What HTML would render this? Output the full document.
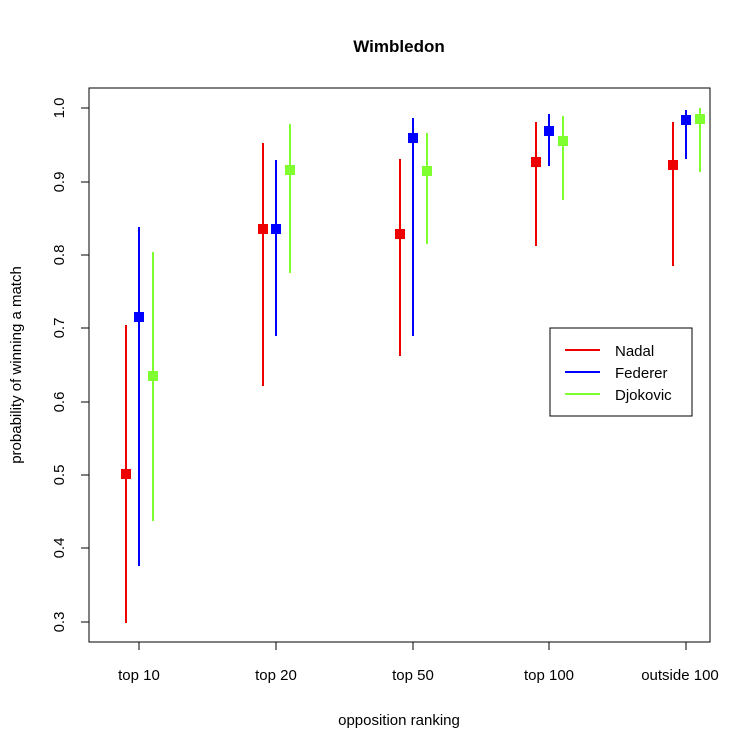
<!DOCTYPE html><html><head><style>body{margin:0;background:#fff}svg{display:block;font-family:"Liberation Sans",sans-serif}</style></head><body>
<svg width="754" height="754" viewBox="0 0 754 754">
<rect x="89" y="88" width="621" height="554" fill="none" stroke="#000" stroke-width="1"/>
<text x="399" y="52" font-size="17" font-weight="bold" text-anchor="middle">Wimbledon</text>
<g stroke="#000">
<line x1="89" y1="108" x2="81" y2="108"/><line x1="89" y1="182" x2="81" y2="182"/><line x1="89" y1="255" x2="81" y2="255"/><line x1="89" y1="328" x2="81" y2="328"/><line x1="89" y1="402" x2="81" y2="402"/><line x1="89" y1="475" x2="81" y2="475"/><line x1="89" y1="548" x2="81" y2="548"/><line x1="89" y1="622" x2="81" y2="622"/>
<line x1="139" y1="642" x2="139" y2="650"/><line x1="276" y1="642" x2="276" y2="650"/><line x1="413" y1="642" x2="413" y2="650"/><line x1="549" y1="642" x2="549" y2="650"/><line x1="686" y1="642" x2="686" y2="650"/>
</g>
<g font-size="15" text-anchor="middle">
<text transform="translate(64,108) rotate(-90)">1.0</text><text transform="translate(64,182) rotate(-90)">0.9</text><text transform="translate(64,255) rotate(-90)">0.8</text><text transform="translate(64,328) rotate(-90)">0.7</text><text transform="translate(64,402) rotate(-90)">0.6</text><text transform="translate(64,475) rotate(-90)">0.5</text><text transform="translate(64,548) rotate(-90)">0.4</text><text transform="translate(64,622) rotate(-90)">0.3</text>
<text x="139" y="680">top 10</text><text x="276" y="680">top 20</text><text x="413" y="680">top 50</text><text x="549" y="680">top 100</text><text x="680" y="680">outside 100</text>
<text x="399" y="725">opposition ranking</text>
<text transform="translate(21,365) rotate(-90)">probability of winning a match</text>
</g>
<g stroke-width="2">
<g stroke="#e00" fill="#e00">
<line x1="126" y1="325" x2="126" y2="623"/><rect x="122" y="470" width="8" height="8"/>
<line x1="263" y1="143" x2="263" y2="386"/><rect x="259" y="225" width="8" height="8"/>
<line x1="400" y1="159" x2="400" y2="356"/><rect x="396" y="230" width="8" height="8"/>
<line x1="536" y1="122" x2="536" y2="246"/><rect x="532" y="158" width="8" height="8"/>
<line x1="673" y1="122" x2="673" y2="266"/><rect x="669" y="161" width="8" height="8"/>
</g>
<g stroke="#00f" fill="#00f">
<line x1="139" y1="227" x2="139" y2="566"/><rect x="135" y="313" width="8" height="8"/>
<line x1="276" y1="160" x2="276" y2="336"/><rect x="272" y="225" width="8" height="8"/>
<line x1="413" y1="118" x2="413" y2="336"/><rect x="409" y="134" width="8" height="8"/>
<line x1="549" y1="114" x2="549" y2="166"/><rect x="545" y="127" width="8" height="8"/>
<line x1="686" y1="110" x2="686" y2="159"/><rect x="682" y="116" width="8" height="8"/>
</g>
<g stroke="#80ff30" fill="#80ff30">
<line x1="153" y1="252" x2="153" y2="521"/><rect x="149" y="372" width="8" height="8"/>
<line x1="290" y1="124" x2="290" y2="273"/><rect x="286" y="166" width="8" height="8"/>
<line x1="427" y1="133" x2="427" y2="244"/><rect x="423" y="167" width="8" height="8"/>
<line x1="563" y1="116" x2="563" y2="200"/><rect x="559" y="137" width="8" height="8"/>
<line x1="700" y1="108" x2="700" y2="172"/><rect x="696" y="115" width="8" height="8"/>
</g>
</g>
<rect x="550" y="328" width="142" height="88" fill="#fff" stroke="#000"/>
<g stroke-width="2"><line x1="565" y1="350" x2="600" y2="350" stroke="#e00"/><line x1="565" y1="372" x2="600" y2="372" stroke="#00f"/><line x1="565" y1="394" x2="600" y2="394" stroke="#80ff30"/></g>
<g font-size="15"><text x="615" y="356">Nadal</text><text x="615" y="378">Federer</text><text x="615" y="400">Djokovic</text></g>
</svg></body></html>
